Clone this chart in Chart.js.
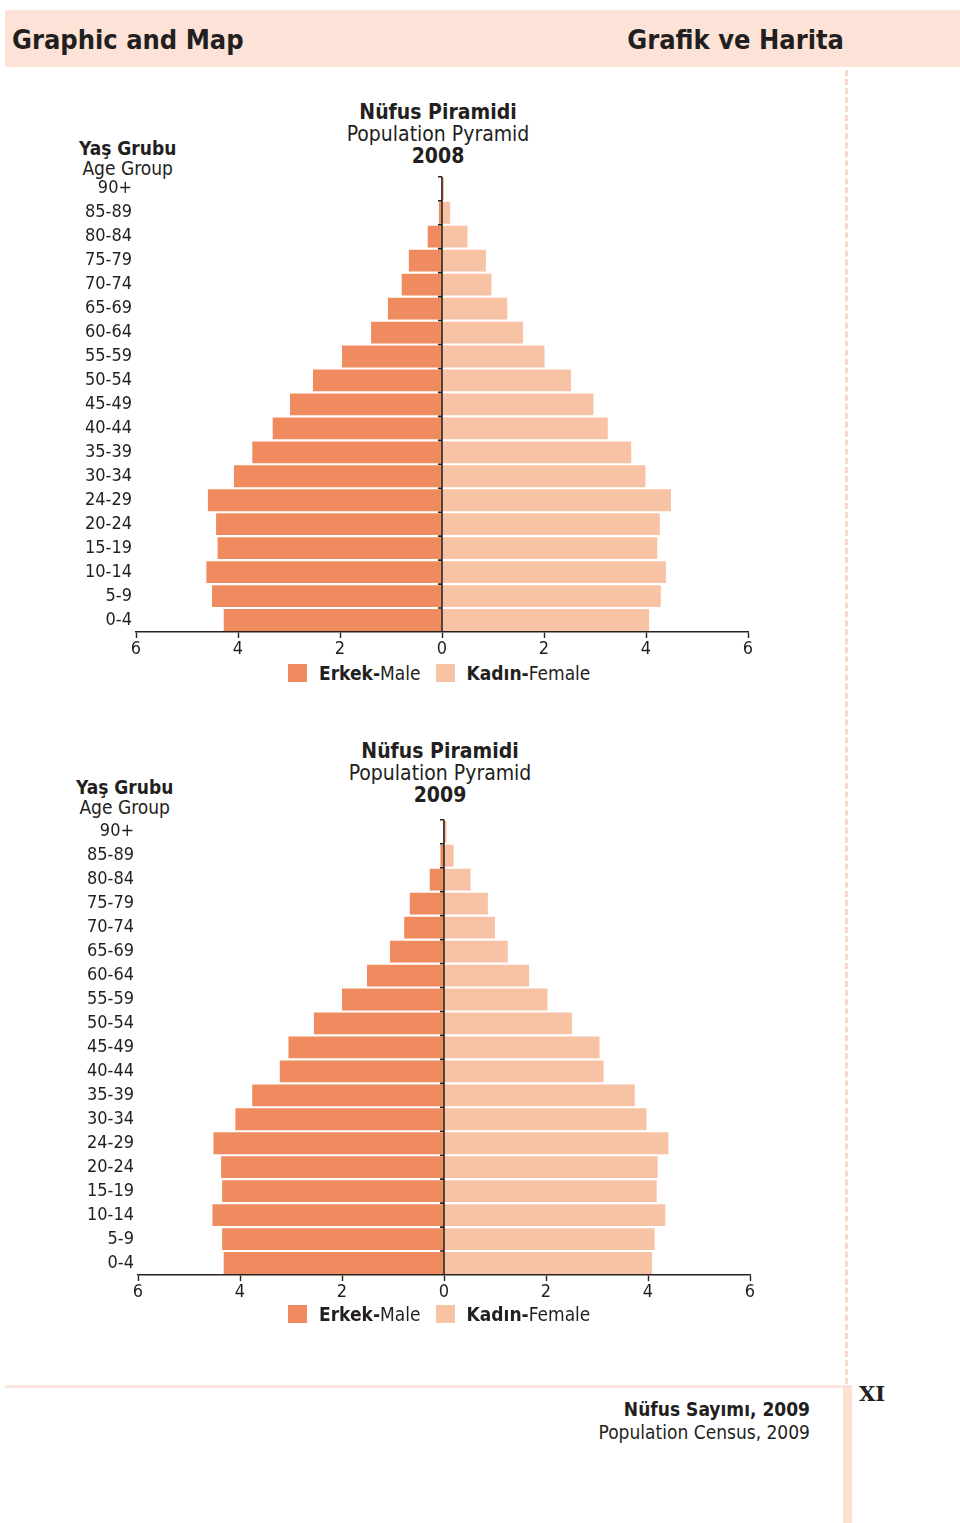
<!DOCTYPE html>
<html>
<head>
<meta charset="utf-8">
<script src="https://cdn.jsdelivr.net/npm/chart.js"></script>
<style>
  body { margin: 0; background: #fff; width: 960px; height: 1523px; position: relative; overflow: hidden;
         font-family: "DejaVu Sans Condensed", "DejaVu Sans", sans-serif; color: #231f20; }
  .abs { position: absolute; }
  .header { left: 5px; top: 10px; width: 955px; height: 57px; background: #fde3d7; }
  .header span { position: absolute; top: 14px; font-weight: bold; font-size: 27px; }
  .dash { left: 845px; top: 70px; width: 0; height: 1314px; border-left: 3px dashed #f7d9cc; }
  .foot-h { left: 5px; top: 1385px; width: 842px; height: 3px; background: #fde6db; }
  .foot-v { left: 843px; top: 1385px; width: 9px; height: 138px; background: #fde0d2; }
  .title { width: 300px; text-align: center; font-size: 21px; line-height: 22px; }
  .ylab { font-size: 19px; line-height: 20px; text-align: center; }
  .legend { font-size: 19px; display: flex; align-items: center; }
  .sw { display: inline-block; width: 19px; height: 18px; margin-right: 12px; }
  b { font-weight: bold; }
</style>
</head>
<body>
<div class="abs header">
  <span style="left:7px">Graphic and Map</span>
  <span style="right:116px">Grafik ve Harita</span>
</div>
<div class="abs dash"></div>
<div class="abs foot-h"></div>
<div class="abs foot-v"></div>

<!-- 2008 -->
<div class="abs title" style="left:288px; top:101px"><b>Nüfus Piramidi</b><br>Population Pyramid<br><b>2008</b></div>
<div class="abs ylab" style="left:79px; top:138px"><b>Yaş Grubu</b><br>Age Group</div>
<div class="abs" style="left:0; top:162px"><canvas id="pyr2008" width="760" height="500"></canvas></div>
<div class="abs legend" style="left:288px; top:662px">
  <span class="sw" style="background:#ef8b5f"></span><span><b>Erkek-</b>Male</span>
  <span class="sw" style="background:#f8c2a5; margin-left:15px"></span><span><b>Kadın-</b>Female</span>
</div>

<!-- 2009 -->
<div class="abs title" style="left:290px; top:740px"><b>Nüfus Piramidi</b><br>Population Pyramid<br><b>2009</b></div>
<div class="abs ylab" style="left:76px; top:777px"><b>Yaş Grubu</b><br>Age Group</div>
<div class="abs" style="left:2px; top:805px"><canvas id="pyr2009" width="760" height="500"></canvas></div>
<div class="abs legend" style="left:288px; top:1303px">
  <span class="sw" style="background:#ef8b5f"></span><span><b>Erkek-</b>Male</span>
  <span class="sw" style="background:#f8c2a5; margin-left:15px"></span><span><b>Kadın-</b>Female</span>
</div>

<div class="abs" style="left:560px; top:1398px; width:250px; text-align:right; font-size:19px; line-height:23px">
  <b>Nüfus Sayımı, 2009</b><br>Population Census, 2009
</div>
<div class="abs" style="left:859px; top:1381px; font-size:21px; font-weight:bold; font-family:'DejaVu Serif', serif">XI</div>

<script>
// Yaş grupları (üstten alta)
const ageGroups = ['90+', '85-89', '80-84', '75-79', '70-74', '65-69', '60-64', '55-59', '50-54',
                   '45-49', '40-44', '35-39', '30-34', '24-29', '20-24', '15-19', '10-14', '5-9', '0-4'];
const xTicks = [-6, -4, -2, 0, 2, 4, 6];

// 2008 (%)
const male2008   = [0.02, 0.06, 0.28, 0.65, 0.79, 1.06, 1.39, 1.96, 2.53, 2.98, 3.32, 3.72, 4.08, 4.59, 4.43, 4.40, 4.62, 4.51, 4.28];
const female2008 = [0.04, 0.16, 0.50, 0.86, 0.97, 1.28, 1.59, 2.01, 2.53, 2.97, 3.25, 3.71, 3.99, 4.49, 4.27, 4.22, 4.39, 4.29, 4.06];

// 2009 (%)
const male2009   = [0.02, 0.07, 0.28, 0.67, 0.78, 1.06, 1.51, 2.00, 2.55, 3.05, 3.22, 3.76, 4.09, 4.52, 4.37, 4.35, 4.54, 4.35, 4.32];
const female2009 = [0.05, 0.19, 0.52, 0.86, 1.00, 1.25, 1.67, 2.03, 2.51, 3.05, 3.13, 3.74, 3.97, 4.40, 4.19, 4.17, 4.34, 4.13, 4.08];

const maleColor = '#ef8b5f';
const femaleColor = '#f8c2a5';
const inkColor = '#2a201c';

Chart.defaults.font.family = "'DejaVu Sans Condensed', 'DejaVu Sans', sans-serif";
Chart.defaults.color = '#231f20';

// orta eksen çizgisi ve küçük çentikler
const centerAxis = {
    id: 'centerAxis',
    afterDatasetsDraw(chart) {
        const { ctx, chartArea, scales } = chart;
        const x0 = scales.x.getPixelForValue(0);
        ctx.save();
        ctx.strokeStyle = inkColor;
        ctx.lineWidth = 1.6;
        ctx.beginPath();
        ctx.moveTo(x0, chartArea.top);
        ctx.lineTo(x0, chartArea.bottom);
        for (let i = 0; i < ageGroups.length; i++) {
            const yb = scales.y.getPixelForValue(i - 0.5);
            ctx.moveTo(x0 - 4, yb);
            ctx.lineTo(x0, yb);
        }
        ctx.stroke();
        ctx.restore();
    }
};

function makePyramid(id, male, female) {
    const ctx = document.getElementById(id).getContext('2d');
    return new Chart(ctx, {
        type: 'bar',
        data: {
            labels: ageGroups,
            datasets: [
                { label: 'Erkek-Male', data: male.map(v => -v), backgroundColor: maleColor },
                { label: 'Kadın-Female', data: female, backgroundColor: femaleColor }
            ]
        },
        options: {
            indexAxis: 'y',
            responsive: false,
            animation: false,
            barPercentage: 0.91,
            categoryPercentage: 1.0,
            layout: { padding: { top: 4, right: 12, left: 0, bottom: 0 } },
            plugins: { legend: { display: false }, tooltip: { enabled: false } },
            scales: {
                x: {
                    stacked: true,
                    min: -6,
                    max: 6,
                    afterBuildTicks: scale => { scale.ticks = xTicks.map(v => ({ value: v })); },
                    ticks: { callback: v => Math.abs(v), font: { size: 18 }, padding: 1, maxRotation: 0 },
                    grid: { drawOnChartArea: false, drawTicks: true, tickLength: 6, tickColor: inkColor, tickWidth: 1.4 },
                    border: { color: inkColor, width: 1.6 },
                    afterFit: scale => { scale.height = 30; }
                },
                y: {
                    stacked: true,
                    ticks: { font: { size: 18 }, padding: 4, autoSkip: false },
                    grid: { display: false, drawTicks: false },
                    border: { display: false },
                    afterFit: scale => { scale.width = 136; }
                }
            }
        },
        plugins: [centerAxis]
    });
}

makePyramid('pyr2008', male2008, female2008);
makePyramid('pyr2009', male2009, female2009);
</script>
</body>
</html>
